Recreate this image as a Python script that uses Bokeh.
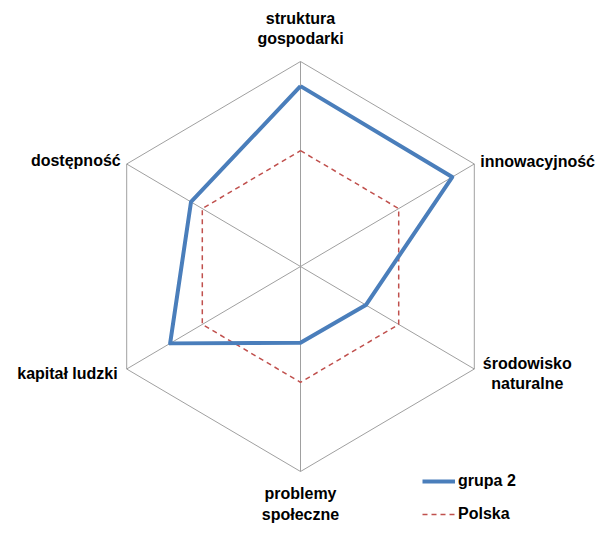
import numpy as np
from bokeh.plotting import figure
from bokeh.models import Range1d, ColumnDataSource, Legend, LegendItem
from bokeh.core.properties import value
from bokeh.embed import file_html
from bokeh.resources import INLINE

categories = ["struktura\ngospodarki", "innowacyjność", "środowisko\nnaturalne",
              "problemy\nspołeczne", "kapitał ludzki", "dostępność"]
grupa2 = [0.88, 0.873, 0.376, 0.372, 0.75, 0.63]
polska = [0.565, 0.565, 0.565, 0.565, 0.565, 0.565]

n = len(categories)
theta = np.arange(n) * 2 * np.pi / n
sx, cy = np.sin(theta), np.cos(theta)

W, H = 600, 524
CX, CY = 300, 266          # centre of the web in screen pixels
RY = 205.0
RX = 173.8 / np.sin(np.pi / 3)
p = figure(width=W, height=H, output_backend="svg", toolbar_location=None,
           x_range=Range1d(-CX / RX, (W - CX) / RX),
           y_range=Range1d(-(H - CY) / RY, CY / RY),
           min_border=0)
p.axis.visible = False
p.grid.visible = False
p.outline_line_color = None

grey = "#a0a0a0"
p.segment(x0=np.zeros(n), y0=np.zeros(n), x1=sx, y1=cy, line_color=grey, line_width=1)
p.line(x=list(sx) + [sx[0]], y=list(cy) + [cy[0]], line_color=grey, line_width=1)

g = np.array(grupa2)
pl = np.array(polska)
r_pl = p.line(x=list(pl * sx) + [pl[0] * sx[0]], y=list(pl * cy) + [pl[0] * cy[0]],
              line_color="#c0504d", line_width=1.5, line_dash="5 4")
r_g = p.line(x=list(g * sx) + [g[0] * sx[0]], y=list(g * cy) + [g[0] * cy[0]],
             line_color="#4a7ebb", line_width=4, line_join="round")

lab = ColumnDataSource(dict(
    x=list(sx), y=list(cy), text=categories,
    xo=[0, 6, 53, 0, -9, -6],
    yo=[-33, -3, 4.5, 32.5, 4, -4],
    al=["center", "left", "center", "center", "right", "right"],
))
p.text(x="x", y="y", text="text", x_offset="xo", y_offset="yo", text_align="al",
       text_baseline="middle", source=lab, text_font=value("Liberation Sans"),
       text_font_style="bold", text_font_size="16px", text_color="#000000",
       text_line_height=1.2)

legend = Legend(items=[LegendItem(label="grupa 2", renderers=[r_g]),
                       LegendItem(label="Polska", renderers=[r_pl])],
                location=(422, 0), orientation="vertical",
                glyph_width=33, glyph_height=20, spacing=13, label_standoff=3,
                label_text_font="Liberation Sans", label_text_font_style="bold",
                label_text_font_size="16px", label_text_color="#000000",
                border_line_color=None, background_fill_alpha=0,
                padding=0, margin=0)
p.add_layout(legend)

open("out.html", "w").write(file_html(p, INLINE))
